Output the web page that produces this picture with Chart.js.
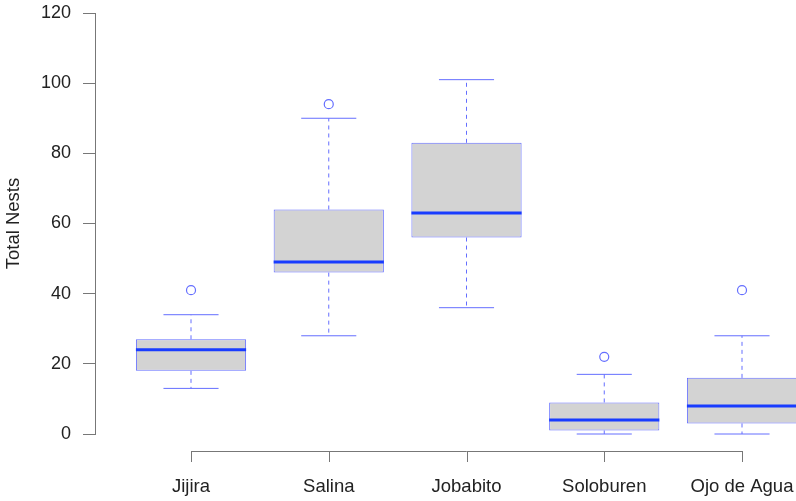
<!DOCTYPE html>
<html>
<head>
<meta charset="utf-8">
<script src="https://cdn.jsdelivr.net/npm/chart.js@4/dist/chart.umd.min.js"></script>
<style>
  body { margin: 0; background: #fff; }
</style>
</head>
<body>
<canvas id="chart_canvas" width="796" height="501"></canvas>
<script>
// box plot values per site
const sites = ['Jijira', 'Salina', 'Jobabito', 'Soloburen', 'Ojo de Agua'];
const lowWhisker = [13, 28, 36, 0, 0];
const q1 = [18, 46, 56, 1, 3];
const median = [24, 49, 63, 4, 8];
const q3 = [27, 64, 83, 9, 16];
const highWhisker = [34, 90, 101, 17, 28];
const outliers = [[41], [94], [], [22], [41]];
const yTicks = [0, 20, 40, 60, 80, 100, 120];

const boxColor = 'rgb(100,110,255)';
const medianColor = 'rgb(25,60,255)';
const axisColor = '#777';
const fontFamily = "'Liberation Sans', Arial";

const boxData = sites.map((s, i) => ({ x: i + 1, y: [q1[i], q3[i]] }));
let outlierData = [];
outliers.forEach((arr, i) => {
    arr.forEach(v => outlierData.push({ x: i + 1, y: v }));
});

// whiskers, caps, medians and the R style x axis
const boxParts = {
    id: 'boxParts',
    afterDatasetsDraw(chart) {
        const { ctx, scales: { x, y }, chartArea } = chart;
        const bars = chart.getDatasetMeta(0).data;
        ctx.save();
        sites.forEach((s, i) => {
            const cx = x.getPixelForValue(i + 1);
            const half = bars[i].width / 2;
            // dashed whiskers
            ctx.beginPath();
            ctx.lineWidth = 1;
            ctx.strokeStyle = boxColor;
            ctx.setLineDash([4, 4]);
            ctx.moveTo(cx, y.getPixelForValue(q3[i]));
            ctx.lineTo(cx, y.getPixelForValue(highWhisker[i]));
            ctx.moveTo(cx, y.getPixelForValue(q1[i]));
            ctx.lineTo(cx, y.getPixelForValue(lowWhisker[i]));
            ctx.stroke();
            // caps
            ctx.setLineDash([]);
            ctx.beginPath();
            ctx.moveTo(cx - half / 2, y.getPixelForValue(highWhisker[i]));
            ctx.lineTo(cx + half / 2, y.getPixelForValue(highWhisker[i]));
            ctx.moveTo(cx - half / 2, y.getPixelForValue(lowWhisker[i]));
            ctx.lineTo(cx + half / 2, y.getPixelForValue(lowWhisker[i]));
            ctx.stroke();
            // median
            ctx.beginPath();
            ctx.lineWidth = 3;
            ctx.strokeStyle = medianColor;
            ctx.moveTo(cx - half, y.getPixelForValue(median[i]));
            ctx.lineTo(cx + half, y.getPixelForValue(median[i]));
            ctx.stroke();
        });
        // x axis line below the plot, first to last tick
        const ay = chartArea.bottom + 17;
        ctx.beginPath();
        ctx.lineWidth = 1;
        ctx.strokeStyle = axisColor;
        ctx.moveTo(x.getPixelForValue(1), ay + 0.5);
        ctx.lineTo(x.getPixelForValue(sites.length), ay + 0.5);
        sites.forEach((s, i) => {
            const tx = Math.round(x.getPixelForValue(i + 1)) + 0.5;
            ctx.moveTo(tx, ay);
            ctx.lineTo(tx, ay + 11);
        });
        ctx.stroke();
        ctx.restore();
    }
};

const conf = {
    type: 'bar',
    data: {
        datasets: [{
            type: 'bar',
            label: 'box',
            data: boxData,
            backgroundColor: '#d3d3d3',
            borderColor: boxColor,
            borderWidth: 1,
            borderSkipped: false,
            barPercentage: 0.8,
            categoryPercentage: 1.0
        }, {
            type: 'scatter',
            label: 'outliers',
            data: outlierData,
            pointRadius: 4.5,
            pointBorderWidth: 1.2,
            pointBackgroundColor: 'rgba(0,0,0,0)',
            pointBorderColor: boxColor
        }]
    },
    options: {
        responsive: false,
        animation: false,
        devicePixelRatio: 1,
        layout: { autoPadding: false, padding: { top: 13, right: 0, bottom: 0, left: 0 } },
        plugins: {
            legend: { display: false },
            tooltip: { enabled: false }
        },
        scales: {
            x: {
                type: 'linear',
                offset: false,
                min: 0.303,
                max: 5.392,
                grid: { display: false, drawTicks: false },
                border: { display: false },
                afterBuildTicks: axis => { axis.ticks = sites.map((s, i) => ({ value: i + 1 })); },
                afterFit: scale => {
                    scale.height = 67;
                    scale.paddingLeft = 0;
                    scale.paddingRight = 0;
                },
                ticks: {
                    padding: 42,
                    maxRotation: 0,
                    autoSkip: false,
                    color: '#222',
                    font: { family: fontFamily, size: 18.5 },
                    callback: v => sites[v - 1]
                }
            },
            y: {
                min: 0,
                max: 120,
                afterBuildTicks: axis => { axis.ticks = yTicks.map(v => ({ value: v })); },
                afterFit: scale => {
                    scale.width = 95;
                    scale.paddingTop = 0;
                    scale.paddingBottom = 0;
                },
                grid: { drawOnChartArea: false, drawTicks: true, tickLength: 12, color: axisColor },
                border: { display: true, color: axisColor },
                ticks: {
                    padding: 12,
                    color: '#222',
                    font: { family: fontFamily, size: 18 }
                },
                title: {
                    display: true,
                    text: 'Total Nests',
                    color: '#222',
                    padding: { top: 3, bottom: 0 },
                    font: { family: fontFamily, size: 18.5 }
                }
            }
        }
    },
    plugins: [boxParts]
};

const myChart = new Chart(document.getElementById('chart_canvas'), conf);
</script>
</body>
</html>
